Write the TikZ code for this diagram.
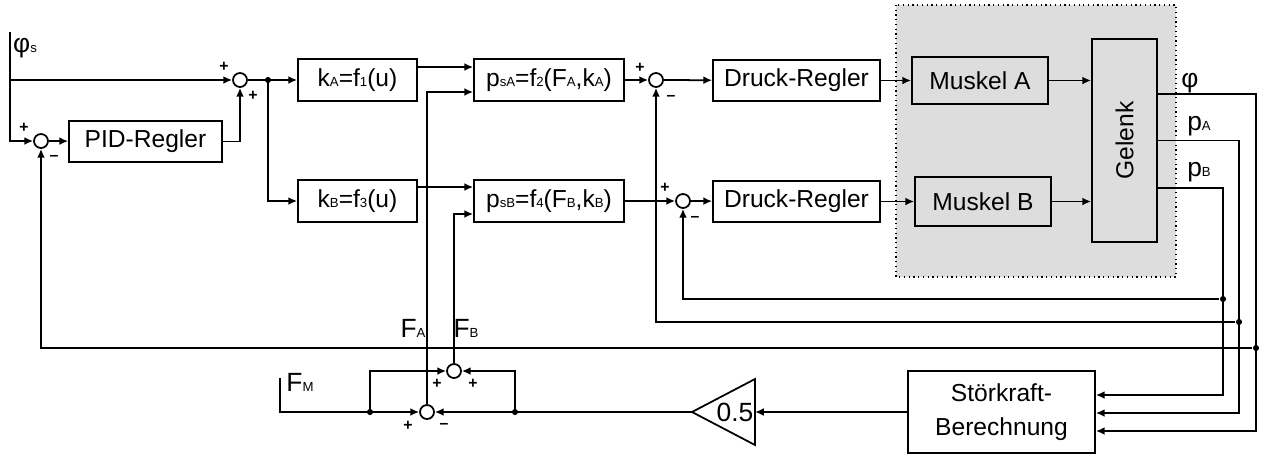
\documentclass[tikz,border=0pt]{standalone}
\usepackage{fontspec}
\setmainfont{Liberation Sans}
\usepackage{tikz}
\usetikzlibrary{arrows.meta, calc}

\definecolor{muskelgrau}{RGB}{221,221,221}
\newcommand{\klein}[1]{{\fontsize{7.5}{7.5}\selectfont #1}}

\begin{document}
\begin{tikzpicture}[x=0.02cm, y=-0.02cm, line width=1pt,
    block/.style={draw, inner sep=0pt, font=\fontsize{14}{19}\selectfont},
    summe/.style={draw, circle, inner sep=0pt, minimum size=0.28cm},
    zeichen/.style={inner sep=0pt, font=\fontsize{9}{9}\selectfont\bfseries},
    punkt/.style={circle, fill, inner sep=0pt, minimum size=3.5pt},
    beschr/.style={inner sep=0pt, font=\fontsize{15}{17}\selectfont},
    pfeil/.style={-{Latex[length=5pt,width=4.5pt]}}]
    \useasboundingbox (0,0) rectangle (1266,468);

    % Strecke (grau hinterlegt)
    \filldraw[fill=muskelgrau, dotted, line width=0.7pt] (896,5) rectangle (1176,277);

    % Bloecke
    \node[block, minimum width=3.06cm, minimum height=0.82cm] (pid) at (145.5,141.5) {PID-Regler};
    \node[block, minimum width=2.38cm, minimum height=0.84cm] (kA) at (357.5,80) {k\klein{A}=f\klein{1}(u)};
    \node[block, minimum width=2.38cm, minimum height=0.84cm] (kB) at (357.5,201) {k\klein{B}=f\klein{3}(u)};
    \node[block, minimum width=3.0cm, minimum height=0.84cm] (psA) at (549,80) {p\klein{sA}=f\klein{2}(F\klein{A},k\klein{A})};
    \node[block, minimum width=3.0cm, minimum height=0.84cm] (psB) at (549,201) {p\klein{sB}=f\klein{4}(F\klein{B},k\klein{B})};
    \node[block, minimum width=3.34cm, minimum height=0.82cm] (drA) at (796.5,80.5) {Druck-Regler};
    \node[block, minimum width=3.34cm, minimum height=0.82cm] (drB) at (796.5,201.5) {Druck-Regler};
    \node[block, minimum width=2.72cm, minimum height=0.94cm] (mA) at (980,80.5) {Muskel A};
    \node[block, minimum width=2.72cm, minimum height=0.98cm] (mB) at (983,201.5) {Muskel B};
    \node[block, minimum width=1.3cm, minimum height=4.06cm] (gelenk) at (1124.5,140.5) {\rotatebox{90}{Gelenk}};
    \node[block, minimum width=3.74cm, minimum height=1.64cm, align=center] (stoer) at (1001.5,412) {Störkraft-\\Berechnung};

    % Verstaerkung
    \draw (755,379) -- (755,445) -- (692,412) -- cycle;
    \node[beschr] (gain) at (735,412) {0.5};
    \coordinate (gainein) at (755,412);
    \coordinate (gainaus) at (692,412);

    % Summierstellen
    \node[summe] (sum0) at (41,141) {};
    \node[summe] (sum1) at (240,80) {};
    \node[summe] (sumPA) at (656,80) {};
    \node[summe] (sumPB) at (683,201) {};
    \node[summe] (sumFB) at (454,371) {};
    \node[summe] (sumFA) at (427,412) {};
    \foreach \x/\y/\z [count=\i] in {24/128/+, 54/158/--, 224/67/+, 253/96/+,
        640/68/+, 671/98/--, 665/188/+, 695/219/--,
        437/384/+, 473/384/+, 408/426/+, 444/426/--}
        \node[zeichen] (vz\i) at (\x,\y) {\z};

    % Beschriftungen
    \node[beschr] (lphis) at (25,48) {φ\klein{s}};
    \node[beschr] (lFA) at (413,328) {F\klein{A}};
    \node[beschr] (lFB) at (466,328) {F\klein{B}};
    \node[beschr] (lFM) at (300,382) {F\klein{M}};
    \node[beschr] (lphi) at (1190,83) {φ};
    \node[beschr] (lpA) at (1199,126) {p\klein{A}};
    \node[beschr] (lpB) at (1199,172) {p\klein{B}};

    % Verzweigungen
    \node[punkt] (j1) at (268,80) {};
    \node[punkt] (jB) at (1223,299) {};
    \node[punkt] (jA) at (1239,322) {};
    \node[punkt] (jphi) at (1256,348) {};
    \node[punkt] (jM) at (370,412) {};
    \node[punkt] (jG) at (515,412) {};

    % Vorwaertszweig
    \coordinate (phis) at (10,32);
    \draw[pfeil] (phis) |- (sum0);
    \draw[pfeil] (phis |- sum1) -- (sum1);
    \draw[pfeil] (sum0) -- (pid);
    \draw[pfeil] (pid) -| (sum1);
    \draw[pfeil] (sum1) -- (kA);
    \draw[pfeil] (j1.center) |- (kB);
    \draw[pfeil] ([yshift=0.26cm]kA.east) -- ([yshift=0.26cm]psA.west);
    \draw[pfeil] ([yshift=0.28cm]kB.east) -- ([yshift=0.28cm]psB.west);
    \draw[pfeil] (psA) -- (sumPA);
    \draw[pfeil] (sumPA) -- (drA);
    \draw[pfeil] (drA) -- (mA);
    \draw[pfeil] (mA) -- (mA -| gelenk.west);
    \draw[pfeil] (psB) -- (sumPB);
    \draw[pfeil] (sumPB) -- (drB);
    \draw[pfeil] (drB) -- (mB);
    \draw[pfeil] (mB) -- (mB -| gelenk.west);

    % Rueckfuehrungen
    \coordinate (phiout) at ([yshift=0.93cm]gelenk.east);
    \coordinate (pAout) at (gelenk.east);
    \coordinate (pBout) at ([yshift=-0.95cm]gelenk.east);
    \coordinate (inB) at ([yshift=0.34cm]stoer.east);
    \coordinate (inA) at ([yshift=-0.02cm]stoer.east);
    \coordinate (inphi) at ([yshift=-0.38cm]stoer.east);
    \draw[pfeil] (pBout) -| (jB.center) |- (inB);
    \draw[pfeil] (jB) -| (sumPB);
    \draw[pfeil] (pAout) -| (jA.center) |- (inA);
    \draw[pfeil] (jA) -| (sumPA);
    \draw[pfeil] (phiout) -| (jphi.center) |- (inphi);
    \draw[pfeil] (jphi) -| (sum0);

    % Stoerkraft
    \draw[pfeil] (stoer) -- (gainein);
    \draw[pfeil] (gainaus) -- (sumFA);
    \coordinate (fm) at (280,378);
    \draw[pfeil] (fm) |- (sumFA);
    \draw[pfeil] (jM.center) |- (sumFB);
    \draw[pfeil] (jG.center) |- (sumFB);
    \draw[pfeil] (sumFA) |- ([yshift=-0.24cm]psA.west);
    \draw[pfeil] (sumFB) |- ([yshift=-0.26cm]psB.west);
\end{tikzpicture}
\end{document}
